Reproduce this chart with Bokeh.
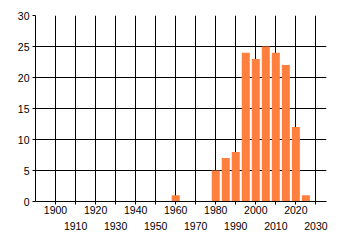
from bokeh.plotting import figure
from bokeh.models import FixedTicker, LinearAxis, Range1d
from bokeh.embed import file_html
from bokeh.resources import INLINE

years = [1960, 1980, 1985, 1990, 1995, 2000, 2005, 2010, 2015, 2020, 2025]
counts = [1, 5, 7, 8, 24, 23, 25, 24, 22, 12, 1]
upper_ticks = [1900, 1920, 1940, 1960, 1980, 2000, 2020]
lower_ticks = [1910, 1930, 1950, 1970, 1990, 2010, 2030]
y_ticks = [0, 5, 10, 15, 20, 25, 30]

FONT = "Liberation Sans"
FS = "10.5px"

p = figure(width=340, height=245, output_backend="svg", toolbar_location=None,
           x_range=Range1d(1890, 2035.3), y_range=Range1d(0, 30),
           x_axis_location=None, min_border_left=35, min_border_right=14,
           min_border_top=15, min_border_bottom=44)
p.outline_line_color = None
p.background_fill_color = "white"
p.border_fill_color = "white"

p.vbar(x=years, top=counts, width=4, fill_color="#FF7F3F", line_color=None)

all_ticks = sorted(upper_ticks + lower_ticks)
ax1 = LinearAxis(ticker=FixedTicker(ticks=all_ticks))
ax1.major_label_overrides = {t: "" for t in lower_ticks}
ax1.axis_line_color = "black"
ax1.major_tick_line_color = "black"
ax1.major_tick_out = 3
ax1.major_tick_in = 0
ax1.minor_tick_line_color = None
ax1.major_label_standoff = 1
ax1.major_label_text_font = FONT
ax1.major_label_text_font_size = FS
ax1.major_label_text_color = "black"
p.add_layout(ax1, "below")

ax2 = LinearAxis(ticker=FixedTicker(ticks=lower_ticks))
ax2.axis_line_color = None
ax2.major_tick_line_color = None
ax2.minor_tick_line_color = None
ax2.major_tick_out = 0
ax2.major_tick_in = 0
ax2.major_label_standoff = 5
ax2.major_label_text_font = FONT
ax2.major_label_text_font_size = FS
ax2.major_label_text_color = "black"
p.add_layout(ax2, "below")

p.yaxis.ticker = FixedTicker(ticks=y_ticks)
p.yaxis.axis_line_color = "black"
p.yaxis.major_tick_line_color = "black"
p.yaxis.major_tick_out = 3
p.yaxis.major_tick_in = 0
p.yaxis.minor_tick_line_color = None
p.yaxis.major_label_standoff = 3
p.yaxis.major_label_text_font = FONT
p.yaxis.major_label_text_font_size = FS
p.yaxis.major_label_text_color = "black"

p.xgrid.ticker = FixedTicker(ticks=all_ticks)
p.xgrid.grid_line_color = "black"
p.xgrid.grid_line_width = 1
p.ygrid.grid_line_color = "black"
p.ygrid.grid_line_width = 1

open("out.html", "w").write(file_html(p, INLINE))
